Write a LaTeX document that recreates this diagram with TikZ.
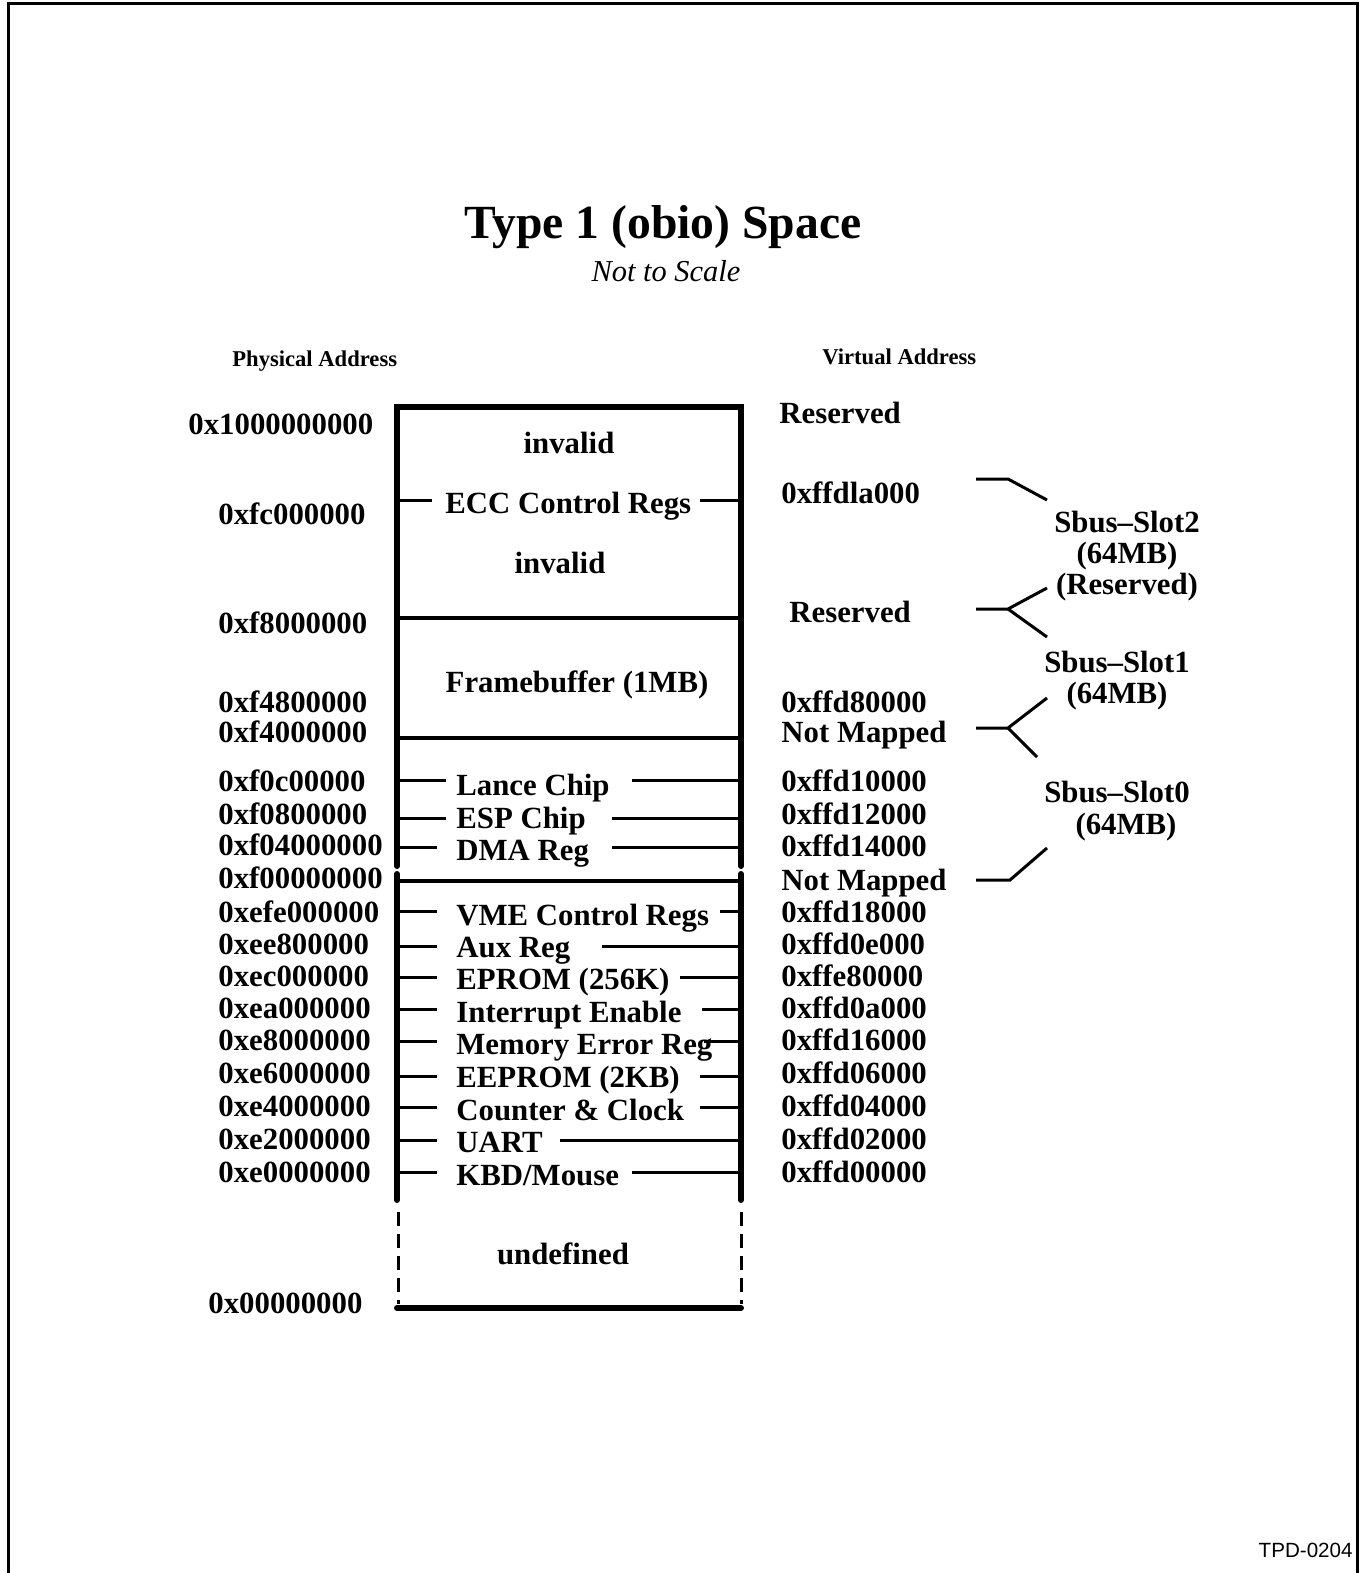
\documentclass[tikz,border=0pt]{standalone}
\usepackage{fontspec}
\setmainfont{Liberation Serif}
\newfontfamily\tpdfont{Liberation Sans}
\begin{document}
\begin{tikzpicture}[x=0.5pt,y=-0.5pt,
  lbl/.style={font=\fontsize{15.4}{18}\bfseries\selectfont,inner sep=0pt},
  boxline/.style={line width=3pt,line cap=round},
  sepline/.style={line width=2pt},
  tick/.style={line width=1.5pt}]
  \useasboundingbox (0,0) rectangle (1369,1573);
  \draw[line width=1.5pt] (8,1573) -- (8,4) -- (1357,4) -- (1357,1573);

  \node[font=\fontsize{23.8}{28}\bfseries\selectfont,inner sep=0pt,anchor=base] (title) at (663,239) {Type 1 (obio) Space};
  \node[font=\fontsize{15.2}{18}\itshape\selectfont,inner sep=0pt,anchor=base] (scale) at (666,281) {Not to Scale};
  \node[font=\fontsize{11.3}{13}\bfseries\selectfont,inner sep=0pt,anchor=base west] (phys) at (232,366) {Physical Address};
  \node[font=\fontsize{11.3}{13}\bfseries\selectfont,inner sep=0pt,anchor=base west] (virt) at (822,364) {Virtual Address};

  \draw[boxline] (397,866) -- (397,407) -- (741,407) -- (741,866);
  \draw[boxline] (397,874) -- (397,1200);
  \draw[boxline] (741,874) -- (741,1200);
  \draw[line width=1.5pt,dash pattern=on 7pt off 4pt] (398,1212) -- (398,1304);
  \draw[line width=1.5pt,dash pattern=on 7pt off 4pt] (741,1212) -- (741,1304);
  \draw[boxline] (397,1308) -- (741,1308);
  \foreach \y in {618,738,881}{
    \draw[sepline] (397,\y) -- (741,\y);}

  \node[lbl,anchor=base] (inv1) at (569,453) {invalid};
  \node[lbl,anchor=base west] (ecc) at (445,513) {ECC Control Regs};
  \draw[tick] (397,500) -- (432,500);
  \draw[tick] (700,500) -- (741,500);
  \node[lbl,anchor=base] (inv2) at (560,573) {invalid};
  \node[lbl,anchor=base] (fb) at (577,692) {Framebuffer (1MB)};
  \node[lbl,anchor=base] (undef) at (563,1264) {undefined};

  \foreach \t/\b/\ty/\xl/\xr [count=\i] in {Lance Chip/795/780/446/632,ESP Chip/828/818/446/612,DMA Reg/860/847/437/612,
      VME Control Regs/925/911/437/720,Aux Reg/957/946/437/602,EPROM (256K)/989/977/437/680,
      Interrupt Enable/1022/1009/437/702,Memory Error Reg/1054/1041/437/704,EEPROM (2KB)/1087/1076/437/700,
      Counter \& Clock/1120/1107/437/700,UART/1152/1140/437/560,{KBD/Mouse}/1185/1172/437/632}{
    \node[lbl,anchor=base west] (dev\i) at (456,\b) {\t};
    \draw[tick] (397,\ty) -- (\xl,\ty);
    \draw[tick] (\xr,\ty) -- (741,\ty);}

  \node[lbl,anchor=base west] (pa0) at (188,434) {0x1000000000};
  \foreach \t/\b [count=\i] in {0xfc000000/524,0xf8000000/633,0xf4800000/712,0xf4000000/742,
      0xf0c00000/791,0xf0800000/824,0xf04000000/855,0xf00000000/888,0xefe000000/922,
      0xee800000/954,0xec000000/986,0xea000000/1018,0xe8000000/1050,0xe6000000/1083,
      0xe4000000/1116,0xe2000000/1149,0xe0000000/1182}{
    \node[lbl,anchor=base west] (pa\i) at (218,\b) {\t};}
  \node[lbl,anchor=base west] (pz) at (208,1313) {0x00000000};

  \node[lbl,anchor=base west] (va0) at (779,423) {Reserved};
  \node[lbl,anchor=base west] (vr) at (789,622) {Reserved};
  \foreach \t/\b [count=\i] in {0xffdla000/503,0xffd80000/712,Not Mapped/742,
      0xffd10000/791,0xffd12000/824,0xffd14000/856,Not Mapped/890,0xffd18000/922,
      0xffd0e000/954,0xffe80000/986,0xffd0a000/1018,0xffd16000/1050,0xffd06000/1083,
      0xffd04000/1116,0xffd02000/1149,0xffd00000/1182}{
    \node[lbl,anchor=base west] (va\i) at (781,\b) {\t};}

  \node[lbl,anchor=base] (s2) at (1127,532) {Sbus--Slot2};
  \node[lbl,anchor=base] (s2m) at (1127,563) {(64MB)};
  \node[lbl,anchor=base] (s2r) at (1127,594) {(Reserved)};
  \node[lbl,anchor=base] (s1) at (1117,672) {Sbus--Slot1};
  \node[lbl,anchor=base] (s1m) at (1117,703) {(64MB)};
  \node[lbl,anchor=base] (s0) at (1117,802) {Sbus--Slot0};
  \node[lbl,anchor=base] (s0m) at (1126,834) {(64MB)};

  \draw[tick] (976,479) -- (1008,479) -- (1047,500);
  \draw[tick] (976,609) -- (1008,609) -- (1047,588);
  \draw[tick] (1008,609) -- (1047,637);
  \draw[tick] (976,728) -- (1008,728) -- (1047,698);
  \draw[tick] (1008,728) -- (1037,757);
  \draw[tick] (976,880) -- (1010,880) -- (1047,848);

  \node[font=\tpdfont\fontsize{10.3}{12}\selectfont,inner sep=0pt,anchor=base east] (tpd) at (1353,1557) {TPD-0204};
\end{tikzpicture}
\end{document}
